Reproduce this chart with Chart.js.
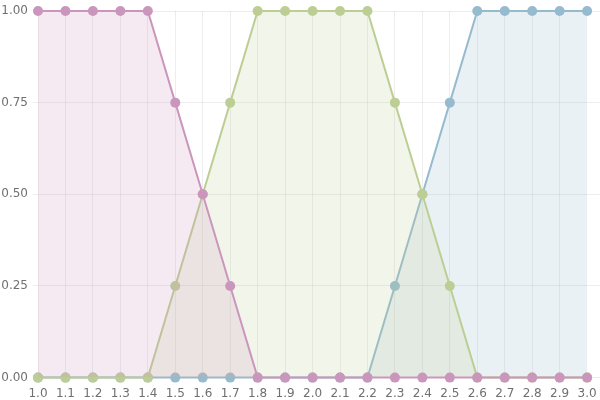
<!DOCTYPE html>
<html><head><meta charset="utf-8">
<script src="https://cdn.jsdelivr.net/npm/chart.js@4"></script>
<style>html,body{margin:0;padding:0;background:#fff}#wrap{width:600px;height:400px}</style>
</head><body><div id="wrap"><canvas id="c"></canvas></div>
<script>
const xValues = [1.0,1.1,1.2,1.3,1.4,1.5,1.6,1.7,1.8,1.9,2.0,2.1,2.2,2.3,2.4,2.5,2.6,2.7,2.8,2.9,3.0];
const pinkSeries  = [1,1,1,1,1,0.75,0.5,0.25,0,0,0,0,0,0,0,0,0,0,0,0,0];
const greenSeries = [0,0,0,0,0,0.25,0.5,0.75,1,1,1,1,1,0.75,0.5,0.25,0,0,0,0,0];
const blueSeries  = [0,0,0,0,0,0,0,0,0,0,0,0,0,0.25,0.5,0.75,1,1,1,1,1];
const yTicks = [0,0.25,0.5,0.75,1];

function pts(arr){ return arr.map((v,i)=>({x:xValues[i], y:v})); }
function ds(data, line, fill){
  return {data: pts(data), borderColor: line, backgroundColor: fill, pointBackgroundColor: line,
    pointBorderColor: line, pointBorderWidth: 0, pointRadius: 5, pointHoverRadius: 5, borderWidth: 2,
    fill: 'origin', tension: 0, clip: false};
}
Chart.defaults.font.family = "'DejaVu Sans', sans-serif";
Chart.defaults.font.size = 12;
Chart.defaults.color = '#707070';
new Chart(document.getElementById('c'), {
  type: 'line',
  data: { datasets: [
    ds(pinkSeries,  'rgb(203,150,188)', 'rgba(203,150,188,0.2)'),
    ds(greenSeries, 'rgb(188,206,148)', 'rgba(188,206,148,0.2)'),
    ds(blueSeries,  'rgb(150,187,206)', 'rgba(150,187,206,0.2)')
  ]},
  options: {
    responsive: true, maintainAspectRatio: false, animation: false,
    layout: { autoPadding: false, padding: { top: 11, right: 0, bottom: -10, left: 0 } },
    plugins: { legend: { display: false }, tooltip: { enabled: false } },
    scales: {
      x: {
        type: 'linear', min: 1.0, max: 3.047, bounds: 'data',
        afterBuildTicks: s => { s.ticks = xValues.map(v => ({value: v})); },
        afterFit: s => { s.paddingRight = 0; s.paddingLeft = 0; },
        ticks: { callback: v => Number(v).toFixed(1), autoSkip: false, maxRotation: 0, padding: 9 },
        grid: { color: ctx => (ctx.tick && ctx.tick.value === 3.0) ? 'rgba(0,0,0,0)' : 'rgba(0,0,0,0.07)', drawTicks: false },
        border: { display: false }
      },
      y: {
        min: 0, max: 1,
        afterBuildTicks: s => { s.ticks = yTicks.map(v => ({value: v})); },
        afterFit: s => { s.width = 38; s.paddingTop = 0; },
        ticks: { callback: v => Number(v).toFixed(2), padding: 5 },
        grid: { color: 'rgba(0,0,0,0.07)', tickLength: 5 },
        border: { display: false }
      }
    }
  }
});
</script></body></html>
